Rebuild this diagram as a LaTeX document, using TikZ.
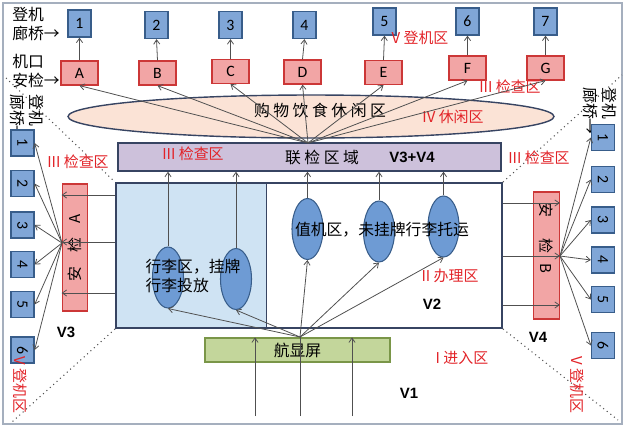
\documentclass[tikz,border=0pt]{standalone}
\usepackage{fontspec}
\setmainfont{Noto Sans CJK SC}
\newfontfamily\latinfont{Carlito}
\newfontfamily\boldfont{Liberation Sans}
\usetikzlibrary{arrows.meta, shapes.geometric}
\definecolor{aptblue}{RGB}{128, 166, 215}
\definecolor{aptbluedk}{RGB}{56, 93, 138}
\definecolor{aptred}{RGB}{242, 165, 165}
\definecolor{aptreddk}{RGB}{204, 55, 55}
\definecolor{apttext}{RGB}{226, 35, 40}
\definecolor{aptoval}{RGB}{110, 155, 212}
\definecolor{aptsky}{RGB}{207, 227, 243}
\definecolor{aptlilac}{RGB}{205, 193, 219}
\definecolor{aptpeach}{RGB}{251, 227, 214}
\definecolor{aptgreen}{RGB}{195, 214, 155}
\definecolor{aptgreendk}{RGB}{122, 150, 72}
\definecolor{aptframe}{RGB}{55, 68, 98}
\definecolor{aptgray}{RGB}{80, 80, 80}
\definecolor{aptedge}{RGB}{165, 175, 190}

\begin{document}
\begin{tikzpicture}[x=0.02cm, y=-0.02cm, >={Straight Barb[length=2.5pt, width=3.5pt]},
  gate/.style={draw=aptbluedk, fill=aptblue, line width=0.7pt, minimum width=0.46cm,
    minimum height=0.54cm, inner sep=0pt, font=\latinfont\fontsize{9}{9}\selectfont},
  sidegate/.style={gate, minimum height=0.52cm},
  checkbox/.style={draw=aptreddk, fill=aptred, line width=0.7pt, minimum width=0.74cm,
    minimum height=0.48cm, inner sep=0pt, font=\latinfont\fontsize{9}{9}\selectfont},
  checkbar/.style={draw=aptreddk, fill=aptred, line width=0.7pt, minimum width=0.51cm,
    minimum height=2.54cm, inner sep=0pt, font=\fontsize{8.5}{9}\selectfont},
  oval/.style={ellipse, draw=aptbluedk, fill=aptoval, line width=0.6pt,
    minimum width=0.62cm, minimum height=1.22cm, inner sep=0pt},
  redlbl/.style={text=apttext, font=\fontsize{8.5}{10}\selectfont, inner sep=0pt},
  zhlbl/.style={font=\fontsize{9}{10.5}\selectfont, inner sep=0pt},
  vlbl/.style={font=\boldfont\bfseries\fontsize{8.5}{10}\selectfont, inner sep=0pt},
  arr/.style={->, line width=0.45pt, aptgray},
  zone/.style={dotted, line width=0.6pt, aptgray}
]

\useasboundingbox (0, 0) rectangle (626, 427);
\draw[aptedge, line width=1.2pt] (3, 3) rectangle (622, 424);

% ============================================================
% ZONAS: area central, lineas de division
% ============================================================

% Bloque principal (V2) con zona de equipaje a la izquierda
\node[draw=none, fill=aptsky, minimum width=3cm, minimum height=2.9cm, inner sep=0pt]
    (bagzone) at (191, 255.5) {};
\node[draw=aptframe, line width=1.1pt, minimum width=7.72cm, minimum height=2.9cm, inner sep=0pt]
    (main) at (309, 255.5) {};
\draw[aptframe, line width=0.8pt] (bagzone.north east) -- (bagzone.south east);

% Lineas punteadas de division
\coordinate (cutNW) at (6, 78);
\coordinate (cutSW) at (12, 422);
\coordinate (cutNE) at (622, 75);
\coordinate (cutSE) at (618, 420);
\draw[zone] (cutNW) -- (main.north west);
\draw[zone] (main.south west) -- (cutSW);
\draw[zone] (main.north east) -- (cutNE);
\draw[zone] (main.south east) -- (cutSE);

% Zona comercial
\node[ellipse, draw=aptframe, fill=aptpeach, line width=0.8pt, minimum width=9.72cm,
    minimum height=0.86cm, inner sep=0pt] (shop) at (311, 116.5) {};
\node[zhlbl] (shoptxt) at (320, 110) {购 物 饮 食 休 闲 区};
\node[redlbl] (lblrest) at (453, 117) {IV 休闲区};

% Control conjunto
\node[draw=aptframe, fill=aptlilac, line width=0.8pt, minimum width=7.66cm,
    minimum height=0.56cm, inner sep=0pt] (joint) at (309.5, 157) {};
\node[zhlbl] (jointtxt) at (322, 157) {联 检 区 域};
\node[vlbl] (lblv34) at (412, 157) {V3+V4};
\node[redlbl] (lblchk1) at (193, 154) {III 检查区};

% ============================================================
% MOSTRADORES
% ============================================================

\node[oval] (bag1) at (168, 277.5) {};
\node[oval] (bag2) at (236, 279) {};
\node[oval] (desk1) at (307.5, 229) {};
\node[oval] (desk2) at (379, 231.5) {};
\node[oval] (desk3) at (443.5, 226.5) {};
\node[zhlbl, align=left] (bagtxt) at (193, 276) {行李区，挂牌\\行李投放};
\node[zhlbl] (desktxt) at (382, 230) {值机区，未挂牌行李托运};
\node[redlbl] (lbldesk) at (450, 276) {II 办理区};
\node[vlbl] (lblv2) at (432, 304) {V2};

% Pantalla de vuelos
\node[draw=aptgreendk, fill=aptgreen, line width=0.7pt, minimum width=3.7cm,
    minimum height=0.48cm, inner sep=0pt, font=\fontsize{9}{10}\selectfont]
    (fids) at (297.5, 350) {航显屏};

% ============================================================
% PUERTAS Y CONTROLES DE EMBARQUE (arriba)
% ============================================================

\node[zhlbl, align=left] (lblgate) at (36, 24) {登机\\廊桥→};
\node[zhlbl, align=left] (lblsec) at (36, 71) {机口\\安检→};

\node[gate] (g1) at (79.5, 23.5) {1};
\node[gate] (g2) at (156.5, 25) {2};
\node[gate] (g3) at (230.5, 25) {3};
\node[gate] (g4) at (304.5, 25) {4};
\node[gate] (g5) at (384.5, 21.5) {5};
\node[gate] (g6) at (467.5, 21.5) {6};
\node[gate] (g7) at (545.5, 21.5) {7};

\node[checkbox] (cA) at (79.5, 73) {A};
\node[checkbox] (cB) at (157.5, 73) {B};
\node[checkbox] (cC) at (230.5, 71.5) {C};
\node[checkbox] (cD) at (302.5, 72) {D};
\node[checkbox] (cE) at (383.5, 72.5) {E};
\node[checkbox] (cF) at (467.5, 68) {F};
\node[checkbox] (cG) at (545.5, 68) {G};

\node[redlbl] (lblboard) at (420, 38) {V 登机区};
\node[redlbl] (lblchk2) at (510, 87) {III 检查区};

% ============================================================
% LADO IZQUIERDO (V3) y DERECHO (V4)
% ============================================================

\node[zhlbl, align=left, rotate=-90] (lblgateL) at (27, 118) {登机\\廊桥→};
\node[zhlbl, align=left, rotate=-90] (lblgateR) at (600, 111) {登机\\廊桥→};

\node[sidegate] (l1) at (22.5, 143) {\rotatebox{-90}{1}};
\node[sidegate] (l2) at (22.5, 183.5) {\rotatebox{-90}{2}};
\node[sidegate] (l3) at (22.5, 225) {\rotatebox{-90}{3}};
\node[sidegate] (l4) at (22.5, 264.5) {\rotatebox{-90}{4}};
\node[sidegate] (l5) at (22.5, 304.5) {\rotatebox{-90}{5}};
\node[sidegate] (l6) at (22.5, 350) {\rotatebox{-90}{6}};

\node[sidegate] (r1) at (603, 137.5) {\rotatebox{-90}{1}};
\node[sidegate] (r2) at (603, 179.5) {\rotatebox{-90}{2}};
\node[sidegate] (r3) at (603, 220) {\rotatebox{-90}{3}};
\node[sidegate] (r4) at (603, 260) {\rotatebox{-90}{4}};
\node[sidegate] (r5) at (603, 299.5) {\rotatebox{-90}{5}};
\node[sidegate] (r6) at (603, 345.5) {\rotatebox{-90}{6}};

\node[checkbar] (secA) at (75, 247.5) {\rotatebox{90}{安\hspace{8pt}检\hspace{8pt}A}};
\node[checkbar] (secB) at (546.5, 255.5) {\rotatebox{-90}{安\hspace{12pt}检\hspace{6pt}B\hspace{20pt}}};

\node[redlbl] (lblchkL) at (78, 162) {III 检查区};
\node[redlbl] (lblchkR) at (539, 158) {III 检查区};
\node[vlbl] (lblv3) at (66, 332) {V3};
\node[vlbl] (lblv4) at (538, 337) {V4};
\node[redlbl, rotate=-90] (lblboardL) at (20, 385) {V 登机区};
\node[redlbl, rotate=-90] (lblboardR) at (577, 385) {V 登机区};

% Entrada
\node[redlbl] (lblenter) at (462, 358) {I 进入区};
\node[vlbl] (lblv1) at (409, 393) {V1};

% ============================================================
% FLUJOS
% ============================================================

% Entrada -> pantalla
\coordinate (in1) at (255, 416);
\coordinate (in2) at (300, 416);
\coordinate (in3) at (352, 416);
\coordinate (hubS) at (300, 337);
\draw[arr] (in1) -- (in1 |- fids.north);
\draw[arr, -] (in2) -- (hubS);
\draw[arr] (in3) -- (in3 |- fids.north);

% Pantalla -> mostradores
\draw[arr] (hubS) -- (bag1.south);
\draw[arr] (hubS) -- (bag2.south);
\draw[arr] (hubS) -- (desk1.south);
\draw[arr] (hubS) -- (desk2.south);
\draw[arr] (hubS) -- (desk3.south);

% Mostradores -> control conjunto
\draw[arr] (bag1.north) -- (bag1.north |- joint.south);
\draw[arr] (bag2.north) -- (bag2.north |- joint.south);
\draw[arr] (desk1.north) -- (desk1.north |- joint.south);
\draw[arr] (desk2.north) -- (desk2.north |- joint.south);
\draw[arr] (desk3.north) -- (desk3.north |- joint.south);

% Control conjunto -> controles de puerta
\coordinate (hubN) at (308, 143);
\draw[arr] (hubN) -- (cA.south);
\draw[arr] (hubN) -- (cB.south);
\draw[arr] (hubN) -- (cC.south);
\draw[arr] (hubN) -- (cD.south);
\draw[arr] (hubN) -- (cE.south);
\draw[arr] (hubN) -- (cF.south);
\draw[arr] (hubN) -- (cG.south);

% Controles -> puertas
\draw[arr] (cA.north) -- (g1.south);
\draw[arr] (cB.north) -- (g2.south);
\draw[arr] (cC.north) -- (g3.south);
\draw[arr] (cD.north) -- (g4.south);
\draw[arr] (cE.north) -- (g5.south);
\draw[arr] (cF.north) -- (g6.south);
\draw[arr] (cG.north) -- (g7.south);

% Lado izquierdo
\draw[arr] (main.west |- 0, 195) -- (secA.west |- 0, 195);
\draw[arr] (main.west |- 0, 242) -- (secA.west |- 0, 242);
\draw[arr] (main.west |- 0, 293) -- (secA.west |- 0, 293);
\coordinate (hubL) at (62, 243);
\draw[arr] (hubL) -- (l1.east);
\draw[arr] (hubL) -- (l2.east);
\draw[arr] (hubL) -- (l3.east);
\draw[arr] (hubL) -- (l4.east);
\draw[arr] (hubL) -- (l5.east);
\draw[arr] (hubL) -- (l6.east);

% Lado derecho
\draw[arr] (main.east |- 0, 203) -- (secB.east |- 0, 203);
\draw[arr] (main.east |- 0, 256) -- (secB.east |- 0, 256);
\draw[arr] (main.east |- 0, 305) -- (secB.east |- 0, 305);
\coordinate (hubR) at (560, 256);
\draw[arr] (hubR) -- (r1.west);
\draw[arr] (hubR) -- (r2.west);
\draw[arr] (hubR) -- (r3.west);
\draw[arr] (hubR) -- (r4.west);
\draw[arr] (hubR) -- (r5.west);
\draw[arr] (hubR) -- (r6.west);

\end{tikzpicture}
\end{document}
